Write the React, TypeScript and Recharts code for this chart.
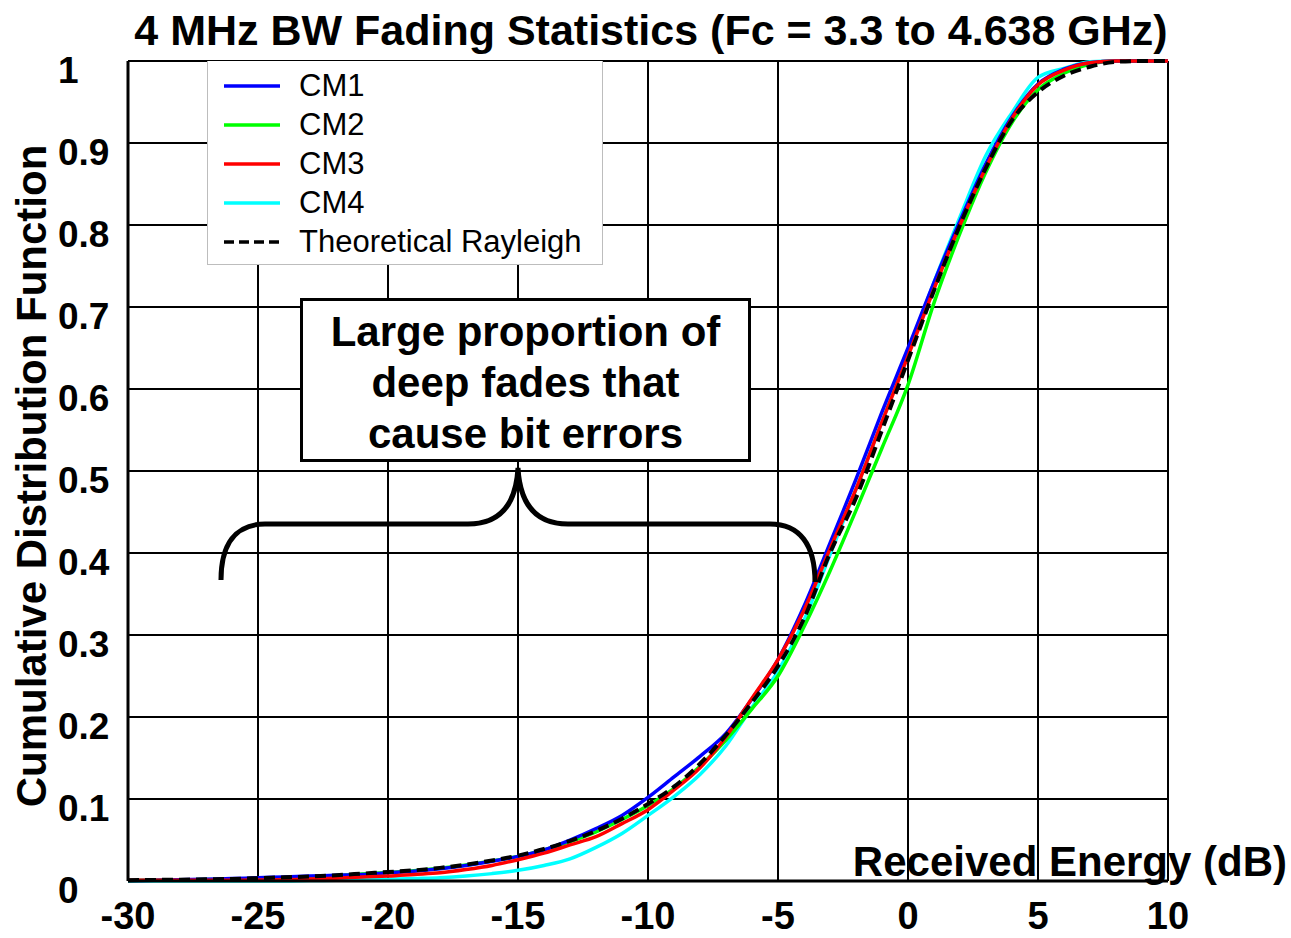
import { LineChart, Line, XAxis, YAxis, CartesianGrid } from "recharts";

const FONT = "'Liberation Sans', Arial, Helvetica, sans-serif";

// received energy in dB
const xValues = [
  -30, -29, -28, -27, -26, -25, -24, -23, -22, -21, -20, -19, -18, -17, -16,
  -15, -14, -13, -12, -11, -10, -9, -8, -7, -6, -5, -4, -3, -2, -1, 0, 1, 2, 3,
  4, 5, 6, 7, 8, 9, 10,
];

const cm1 = [
  0.0005, 0.001, 0.0015, 0.002, 0.003, 0.004, 0.005, 0.006, 0.007, 0.008, 0.01,
  0.012, 0.015, 0.019, 0.024, 0.03, 0.038, 0.05, 0.064, 0.08, 0.102, 0.127,
  0.152, 0.18, 0.222, 0.27, 0.335, 0.412, 0.49, 0.572, 0.65, 0.73, 0.805,
  0.875, 0.932, 0.972, 0.99, 0.998, 1, 1, 1,
];

const cm2 = [
  0.0005, 0.001, 0.0013, 0.0017, 0.0022, 0.003, 0.004, 0.005, 0.0065, 0.0085,
  0.0105, 0.0125, 0.0155, 0.0195, 0.0245, 0.03, 0.038, 0.048, 0.06, 0.075,
  0.092, 0.113, 0.14, 0.172, 0.21, 0.25, 0.31, 0.378, 0.452, 0.528, 0.605,
  0.705, 0.79, 0.865, 0.925, 0.965, 0.985, 0.996, 1, 1, 1,
];

const cm3 = [
  0.001, 0.001, 0.001, 0.001, 0.001, 0.0012, 0.0015, 0.0025, 0.0035, 0.005,
  0.006, 0.008, 0.01, 0.014, 0.019, 0.026, 0.034, 0.044, 0.054, 0.07, 0.087,
  0.111, 0.138, 0.176, 0.223, 0.27, 0.33, 0.405, 0.478, 0.56, 0.64, 0.722, 0.8,
  0.87, 0.93, 0.971, 0.989, 0.998, 1, 1, 1,
];

const cm4 = [
  0, 0, 0, 0, 0, 0, 0, 0.0005, 0.001, 0.0015, 0.002, 0.003, 0.004, 0.006, 0.009,
  0.013, 0.019, 0.027, 0.041, 0.058, 0.08, 0.103, 0.13, 0.165, 0.212, 0.256,
  0.318, 0.398, 0.478, 0.56, 0.645, 0.73, 0.81, 0.885, 0.937, 0.98, 0.991,
  0.999, 1, 1, 1,
];

const rayleigh = [
  0.001, 0.0013, 0.0016, 0.002, 0.0025, 0.0035, 0.0045, 0.0055, 0.007, 0.009,
  0.011, 0.013, 0.016, 0.02, 0.025, 0.031, 0.039, 0.049, 0.061, 0.076, 0.094,
  0.115, 0.143, 0.178, 0.218, 0.262, 0.32, 0.4, 0.467, 0.55, 0.635, 0.72, 0.8,
  0.87, 0.928, 0.962, 0.982, 0.993, 0.999, 1, 1,
];

const xTicks = [-30, -25, -20, -15, -10, -5, 0, 5, 10];
const yTicks = [0, 0.1, 0.2, 0.3, 0.4, 0.5, 0.6, 0.7, 0.8, 0.9, 1];

const series = [
  { key: "cm4", name: "CM4", color: "#00ffff", dash: undefined },
  { key: "cm2", name: "CM2", color: "#00ff00", dash: undefined },
  { key: "cm1", name: "CM1", color: "#0000ff", dash: undefined },
  { key: "cm3", name: "CM3", color: "#ff0000", dash: undefined },
  { key: "rayleigh", name: "Theoretical Rayleigh", color: "#000000", dash: "11 6" },
];

const legendOrder = ["cm1", "cm2", "cm3", "cm4", "rayleigh"];

const chartData = xValues.map((x, i) => ({
  x,
  cm1: cm1[i],
  cm2: cm2[i],
  cm3: cm3[i],
  cm4: cm4[i],
  rayleigh: rayleigh[i],
}));

const YTick = ({ y, payload }: any) => (
  <text
    x={58}
    y={y + 22}
    fontFamily={FONT}
    fontWeight="bold"
    fontSize={37}
    fill="#000"
  >
    {payload.value === 0 || payload.value === 1
      ? String(payload.value)
      : payload.value.toFixed(1)}
  </text>
);

const XTick = ({ x, y, payload }: any) => (
  <text
    x={x}
    y={y + 48}
    textAnchor="middle"
    fontFamily={FONT}
    fontWeight="bold"
    fontSize={38}
    fill="#000"
  >
    {payload.value}
  </text>
);

function LegendBox() {
  return (
    <div
      style={{
        position: "absolute",
        left: 207,
        top: 61,
        width: 396,
        height: 204,
        background: "#fff",
        border: "1px solid #bdbdbd",
        borderTop: "none",
        boxSizing: "border-box",
        fontFamily: FONT,
        fontSize: 31,
        paddingTop: 5,
      }}
    >
      {legendOrder.map((k) => {
        const s = series.find((d) => d.key === k)!;
        return (
          <div
            key={k}
            style={{ display: "flex", alignItems: "center", height: 39 }}
          >
            <svg width={75} height={10} style={{ marginLeft: 16 }}>
              <line
                x1={0}
                x2={56}
                y1={5}
                y2={5}
                stroke={s.color}
                strokeWidth={3.5}
                strokeDasharray={s.dash ? "10 5" : undefined}
              />
            </svg>
            <span style={{ color: "#000", lineHeight: 1 }}>{s.name}</span>
          </div>
        );
      })}
    </div>
  );
}

function Annotation() {
  return (
    <>
      <div
        style={{
          position: "absolute",
          left: 300,
          top: 298,
          width: 451,
          height: 164,
          border: "3.5px solid #000",
          boxSizing: "border-box",
          background: "#fff",
          fontFamily: FONT,
          fontWeight: "bold",
          fontSize: 42,
          lineHeight: "51px",
          textAlign: "center",
          paddingTop: 5,
        }}
      >
        Large proportion of
        <br />
        deep fades that
        <br />
        cause bit errors
      </div>
      <svg
        width={1291}
        height={938}
        style={{ position: "absolute", left: 0, top: 0, pointerEvents: "none" }}
      >
        <path
          d="M 221 580 C 221 545 235 524 265 524 L 468 524 C 500 524 516 505 518 468 C 520 505 536 524 568 524 L 770 524 C 800 524 815 545 815 582"
          fill="none"
          stroke="#000"
          strokeWidth={5}
        />
      </svg>
    </>
  );
}

export default function App() {
  return (
    <div
      style={{
        position: "absolute",
        left: 0,
        top: 0,
        width: 1291,
        height: 938,
        background: "#fff",
      }}
    >
      <LineChart
        width={1291}
        height={938}
        data={chartData}
        margin={{ top: 61, right: 123, bottom: 0, left: 0 }}
      >
        <CartesianGrid stroke="#000" strokeWidth={2} />
        <XAxis
          type="number"
          dataKey="x"
          domain={[-30, 10]}
          ticks={xTicks}
          height={57}
          tickSize={0}
          tickMargin={0}
          tickLine={false}
          axisLine={{ stroke: "#000", strokeWidth: 3 }}
          tick={<XTick />}
          interval={0}
          allowDataOverflow
        />
        <YAxis
          type="number"
          domain={[0, 1]}
          ticks={yTicks}
          width={128}
          tickSize={0}
          tickMargin={0}
          tickLine={false}
          axisLine={{ stroke: "#000", strokeWidth: 3 }}
          tick={<YTick />}
          interval={0}
        />
        {series.map((s) => (
          <Line
            key={s.key}
            type="monotone"
            dataKey={s.key}
            name={s.name}
            stroke={s.color}
            strokeWidth={s.dash ? 4 : 3.5}
            strokeDasharray={s.dash}
            dot={false}
            activeDot={false}
            isAnimationActive={false}
          />
        ))}
        <text
          x={651}
          y={45}
          textAnchor="middle"
          fontFamily={FONT}
          fontWeight="bold"
          fontSize={43}
          fill="#000"
        >
          4 MHz BW Fading Statistics (Fc = 3.3 to 4.638 GHz)
        </text>
        <text
          x={46}
          y={476}
          textAnchor="middle"
          transform="rotate(-90 46 476)"
          fontFamily={FONT}
          fontWeight="bold"
          fontSize={42}
          fill="#000"
        >
          Cumulative Distribution Function
        </text>
        <text
          x={1287}
          y={876}
          textAnchor="end"
          fontFamily={FONT}
          fontWeight="bold"
          fontSize={42}
          fill="#000"
        >
          Received Energy (dB)
        </text>
      </LineChart>
      <LegendBox />
      <Annotation />
    </div>
  );
}
